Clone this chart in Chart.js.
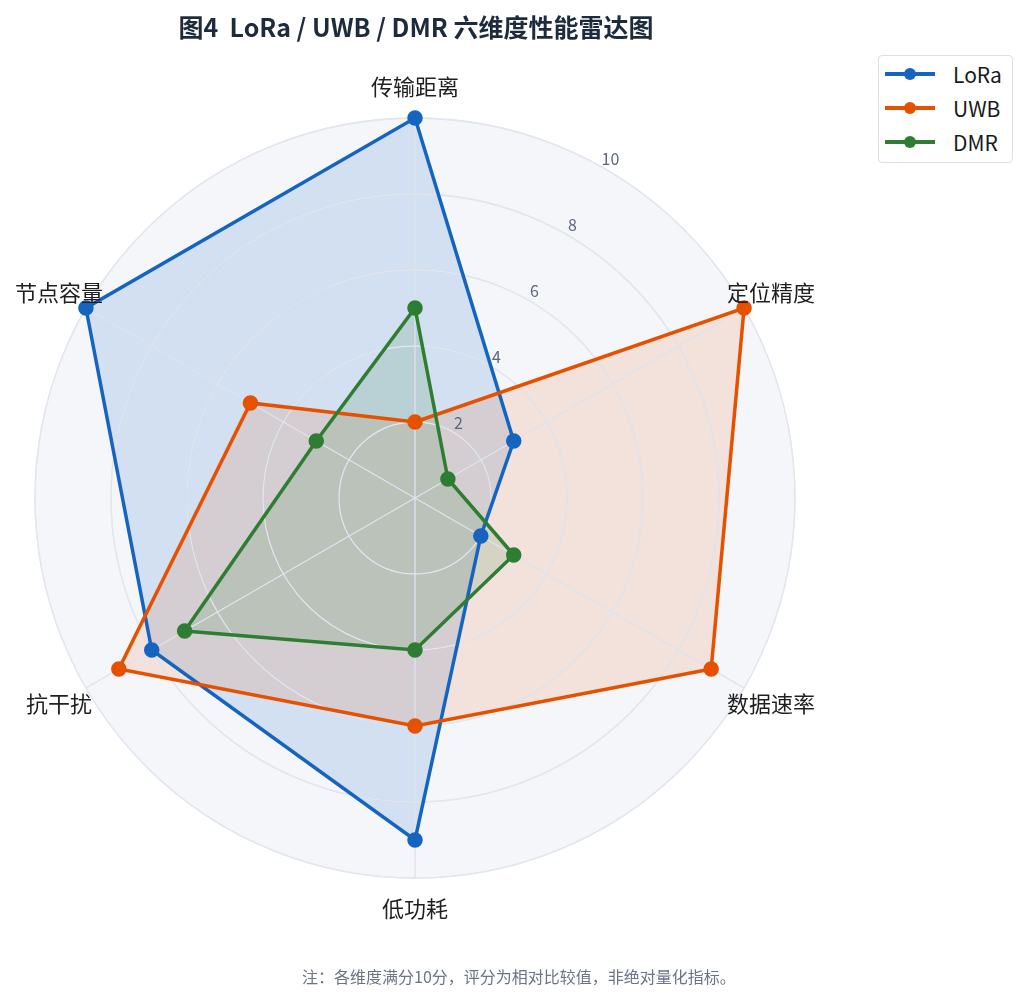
<!DOCTYPE html>
<html>
<head>
<meta charset="utf-8">
<script src="https://cdn.jsdelivr.net/npm/chart.js@4.4.0/dist/chart.umd.min.js"></script>
<style>
	body { margin: 0; background: #fff; font-family: 'Noto Sans CJK SC', 'Noto Sans', sans-serif; }
	.wrap { position: relative; width: 1029px; height: 1002px; }
	.title { position: absolute; left: 0; width: 832px; top: 8px; text-align: center; font-size: 25px; font-weight: bold; color: #1e2b3c; white-space: pre; }
	.legend { position: absolute; left: 878px; top: 55px; width: 133px; height: 106px; border: 1px solid #dcdfe4; border-radius: 4px; background: #fff; }
	.legend__item { position: absolute; left: 6px; height: 34px; display: flex; align-items: center; }
	.legend__line { position: relative; width: 50px; height: 3.5px; }
	.legend__dot { position: absolute; left: 19px; top: -4.5px; width: 12px; height: 12px; border-radius: 50%; }
	.legend__text { margin-left: 18px; font-size: 21px; color: #1a1a1a; }
	.note { position: absolute; left: 0; width: 1038px; top: 964px; text-align: center; font-size: 16px; color: #6b7385; }
</style>
</head>
<body>
<div class="wrap">
	<canvas id="radarChart" width="1029" height="1002"></canvas>
	<div class="title">图4  LoRa / UWB / DMR 六维度性能雷达图</div>
	<div class="legend" id="legend"></div>
	<div class="note">注：各维度满分10分，评分为相对比较值，非绝对量化指标。</div>
</div>
<script>
"use strict"

// данные
const dimensions = ['传输距离', '定位精度', '数据速率', '低功耗', '抗干扰', '节点容量'];
const seriesNames = ['LoRa', 'UWB', 'DMR'];
const loraScores = [10, 3, 2, 9, 8, 10];
const uwbScores = [2, 10, 9, 6, 9, 5];
const dmrScores = [5, 1, 3, 4, 7, 3];
const tickValues = [2, 4, 6, 8, 10];

const lineColors = ['#1565c0', '#e65100', '#2e7d32'];
const fillColors = ['rgba(21, 101, 192, 0.15)', 'rgba(230, 81, 0, 0.12)', 'rgba(46, 125, 50, 0.15)'];
const fontFamily = "'Noto Sans CJK SC', 'Noto Sans', sans-serif";

// сетка поверх заливки, но под линиями
const gridOverFill = {
	id: 'gridOverFill',
	beforeDatasetsDraw(chart) {
		chart.scales.r.drawGrid(chart.chartArea);
	}
};

// подписи осей и значений рисуем сами, по шкале
const radarLabels = {
	id: 'radarLabels',
	afterDatasetsDraw(chart) {
		const scale = chart.scales.r;
		const ctx = chart.ctx;
		ctx.save();
		ctx.textAlign = 'center';
		ctx.textBaseline = 'middle';

		ctx.font = '16px ' + fontFamily;
		ctx.fillStyle = '#5c667a';
		tickValues.forEach(v => {
			const pos = scale.getPointPosition(0.5, scale.getDistanceFromCenterForValue(v) + 11);
			ctx.fillText(String(v), pos.x, pos.y);
		});

		ctx.font = '22px ' + fontFamily;
		ctx.fillStyle = '#1f1f1f';
		dimensions.forEach((label, i) => {
			const pos = scale.getPointPosition(i, scale.drawingArea + 31);
			ctx.fillText(label, pos.x, pos.y);
		});
		ctx.restore();
	}
};

const allScores = [loraScores, uwbScores, dmrScores];

const radarChart = new Chart(
	document.getElementById('radarChart'),
	{
		type: 'radar',
		data: {
			labels: dimensions,
			datasets: seriesNames.map((name, i) => ({
				label: name,
				data: allScores[i],
				borderColor: lineColors[i],
				backgroundColor: fillColors[i],
				pointBackgroundColor: lineColors[i],
				pointBorderColor: lineColors[i],
				pointRadius: 6,
				borderWidth: 3.5,
				fill: true,
				order: seriesNames.length - i,
			}))
		},
		options: {
			responsive: false,
			animation: false,
			layout: {
				padding: { left: 35, top: 118, right: 234, bottom: 124 }
			},
			plugins: {
				legend: { display: false },
				title: { display: false },
				tooltip: { enabled: false },
				filler: { drawTime: 'beforeDatasetsDraw' }
			},
			scales: {
				r: {
					min: 0,
					max: 10,
					backgroundColor: '#f4f6fa',
					ticks: { display: false, stepSize: 2 },
					grid: { circular: true, color: '#e2e6ee', lineWidth: 1.3 },
					angleLines: { color: '#e2e6ee', lineWidth: 1.3 },
					pointLabels: { display: false }
				}
			}
		},
		plugins: [gridOverFill, radarLabels]
	}
);

// легенда
const legendBox = document.getElementById('legend');
seriesNames.forEach((name, i) => {
	const item = document.createElement('div');
	item.className = 'legend__item';
	item.style.top = (1 + i * 34) + 'px';
	item.innerHTML = '<div class="legend__line" style="background:' + lineColors[i] + '">' +
		'<div class="legend__dot" style="background:' + lineColors[i] + '"></div></div>' +
		'<span class="legend__text">' + name + '</span>';
	legendBox.appendChild(item);
});
</script>
</body>
</html>
